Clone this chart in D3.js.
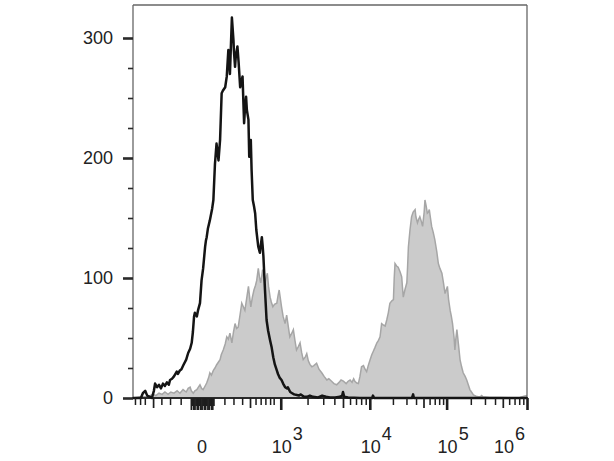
<!DOCTYPE html>
<html>
<head>
<meta charset="utf-8">
<script src="https://cdn.jsdelivr.net/npm/d3@7"></script>
<style>
  html, body { margin: 0; padding: 0; background: #fff; }
  svg { display: block; }
  text { font-family: "Liberation Sans", Arial, Helvetica, sans-serif; }
</style>
</head>
<body>
<svg id="chart" width="614" height="461"></svg>
<script>
// ---------- data (x in display channels 0..1000, y in event counts) ----------
const blackHist = [[0,0],[20,0],[25,4],[31,6],[36,2],[43,1],[48,0],[53,6],[56,12],[61,9],[66,11],[71,8],[76,12],[81,10],[86,13],[91,11],[94,15],[99,16],[104,18],[111,22],[114,20],[119,23],[123,24],[128,27.5],[135,32],[140,37.5],[145,41],[149,46],[152,55],[155,68],[157,71],[162,68],[165,73],[170,79],[174,98],[178,108],[183,126],[185,131],[187,134],[190,141],[195,148],[201,158],[204,165],[208,195],[212,212],[217,198],[221,215],[225,254],[228,256],[234,259],[238,268],[242,290],[244,280],[246,270],[251,317],[255,298],[256,290],[259,276],[261,285],[265,293],[268,280],[272,259],[274,262],[278,268],[282,229],[284,240],[287,251],[289,240],[293,232],[295,201],[299,215],[301,190],[304,165],[307,160],[310,154],[313,140],[318,126],[322,121],[327,134],[329,127],[331,118],[335,90],[339,65],[343,56],[348,48],[352,42],[356,34],[360,28],[365,23],[368,20],[372,17],[377,15],[381,12],[386,9],[391,8],[393,9],[399,5],[404,4],[409,3],[416,2.5],[421,2],[426,3],[434,1],[441,1],[449,2],[457,1],[470,0.5],[480,2],[490,1],[500,0.5],[513,0.5],[525,1],[531,2],[533,5],[536,1],[546,0.5],[576,0],[607,0],[609,2],[612,0],[678,0],[708,0],[711,3],[713,0],[805,0],[931,0],[1000,0]];

const grayHist = [[0,0],[18,1],[33,1],[43,2],[51,3],[58,2],[66,4],[74,3],[81,5],[89,3],[96,5],[104,4],[112,6],[119,4],[127,7],[135,5],[140,8],[145,9],[148,6],[153,4],[157,6],[162,7],[166,9],[170,11],[174,8],[178,7],[183,10],[187,12.5],[192,17],[195,21],[199,19],[204,23],[208,25],[212,27.5],[217,30],[221,32],[224,36],[229,40],[234,45],[238,51],[242,49],[246,54],[251,46],[255,55],[259,62],[263,58],[267,59],[272,70],[276,79],[280,76],[284,73],[289,84],[293,93],[296,84],[299,76],[303,84],[307,90],[311,94],[314,98],[318,108],[321,101],[324,96],[327,102],[329,107],[332,100],[335,96],[338,100],[341,104],[344,93],[348,84],[351,80],[355,76],[359,78],[365,79],[368,85],[371,90],[374,83],[377,76],[381,68],[386,62],[390,69],[394,60],[398,51],[403,54],[407,57],[411,48],[415,40],[420,43],[424,46],[428,38],[432,32],[437,34],[441,37],[445,31],[449,28],[454,26],[459,27],[466,29],[472,24],[479,21],[485,18],[492,15],[497,16],[504,14],[510,12],[517,11],[523,13],[528,15],[534,14],[541,12],[546,14],[551,15],[556,13],[560,16],[563,14],[568,12.5],[572,12],[576,18],[580,26],[585,27],[589,24],[593,22],[597,27],[602,32],[606,36],[610,39],[614,42],[619,46],[623,48],[627,51],[631,62],[635,61],[640,60],[644,65],[648,71],[652,79],[657,81],[661,82],[663,100],[665,112],[669,110],[673,109],[678,105],[682,101],[684,92],[686,84],[690,90],[695,96],[697,110],[699,126],[703,140],[707,151],[711,155],[716,157],[718,151],[722,146],[725,149],[728,151],[732,147],[735,143],[739,155],[741,165],[744,160],[747,154],[750,155],[752,157],[755,150],[758,143],[762,138],[766,132],[771,122],[775,112],[779,108],[784,104],[788,96],[792,87],[795,90],[798,93],[801,82],[805,73],[808,68],[811,62],[815,50],[817,40],[819,48],[822,57],[826,45],[830,32],[834,26],[838,21],[843,18],[847,15],[851,11],[855,7],[859,5],[864,2.5],[871,1.5],[876,1],[881,1],[885,2],[888,1],[906,0.5],[931,0.5],[957,0.3],[982,0.5],[992,1.5],[1000,2]];

// axis ticks / labels
const yMajorTicks = [0, 100, 200, 300];
const yMinorTicks = [25, 50, 75, 125, 150, 175, 225, 250, 275];
const xMajorCh   = [175, 375, 601, 796, 1000];
const xMajorBase = ["0", "10", "10", "10", "10"];
const xMajorExp  = ["", "3", "4", "5", "6"];
const xNegMinorCh = [5, 18, 30, 72, 94, 121];
const xNegMidCh   = [51];
const xZeroCluster = [147, 150, 153, 156, 159, 162, 165, 168, 171, 174, 177, 180, 183, 186, 189, 192, 195, 198, 201, 204];
const xLowMinorCh = [232, 255, 277, 311, 324, 336, 348, 357];
const xLowMidCh   = [297];
const decadeCh = [375, 601, 796, 1000]; // 10^3 .. 10^6

// ---------- scales ----------
const svg = d3.select("#chart");
const X0 = 133, X1 = 527, Y0 = 398, Y1 = 5;
const x = d3.scaleLinear().domain([0, 1000]).range([X0, X1]);
const y = d3.scaleLinear().domain([0, 327.5]).range([Y0, Y1]);

svg.append("rect").attr("width", 614).attr("height", 461).attr("fill", "#fff");

// ---------- gray filled histogram ----------
svg.append("path")
  .datum(grayHist)
  .attr("fill", "#cbcbcb")
  .attr("stroke", "none")
  .attr("d", d3.area().x(d => x(d[0])).y0(y(0)).y1(d => y(d[1])));
svg.append("path")
  .datum(grayHist)
  .attr("fill", "none")
  .attr("stroke", "#a6a6a6")
  .attr("stroke-width", 1.5)
  .attr("d", d3.line().x(d => x(d[0])).y(d => y(d[1])));

// ---------- frame ----------
const frame = svg.append("g").attr("fill", "none").attr("stroke", "#666").attr("stroke-width", 1.3);
frame.append("line").attr("x1", X0).attr("x2", X1).attr("y1", Y1).attr("y2", Y1);
frame.append("line").attr("x1", X1).attr("x2", X1).attr("y1", Y1).attr("y2", Y0);
frame.append("line").attr("x1", X0).attr("x2", X0).attr("y1", Y1).attr("y2", Y0);
svg.append("line").attr("x1", X0 - 1).attr("x2", X1 + 1).attr("y1", Y0).attr("y2", Y0)
  .attr("stroke", "#2a2a2a").attr("stroke-width", 2.2);

// ---------- black open histogram ----------
svg.append("path")
  .datum(blackHist)
  .attr("fill", "none")
  .attr("stroke", "#141414")
  .attr("stroke-width", 2.5)
  .attr("stroke-linejoin", "round")
  .attr("d", d3.line().x(d => x(d[0])).y(d => y(d[1])));

// ---------- y axis ----------
const yMajAxis = svg.append("g").attr("transform", `translate(${X0},0)`)
  .call(d3.axisLeft(y).tickValues(yMajorTicks).tickSize(10).tickPadding(10).tickFormat(d3.format("d")));
yMajAxis.select(".domain").remove();
yMajAxis.selectAll(".tick line").attr("stroke", "#2a2a2a").attr("stroke-width", 2.6);
yMajAxis.selectAll(".tick text").attr("font-size", 18).attr("fill", "#222")
  .attr("font-family", "'Liberation Sans', Arial, sans-serif");

const yMinAxis = svg.append("g").attr("transform", `translate(${X0},0)`)
  .call(d3.axisLeft(y).tickValues(yMinorTicks).tickSize(5).tickFormat(""));
yMinAxis.select(".domain").remove();
yMinAxis.selectAll(".tick line").attr("stroke", "#2a2a2a").attr("stroke-width", 1.6);

// ---------- x axis ticks ----------
function xTicks(values, size, width) {
  const g = svg.append("g").attr("transform", `translate(0,${Y0})`)
    .call(d3.axisBottom(x).tickValues(values).tickSize(size).tickFormat(""));
  g.select(".domain").remove();
  g.selectAll(".tick line").attr("stroke", "#1e1e1e").attr("stroke-width", width);
  return g;
}
const logMinor = [], logMid = [];
for (let i = 0; i < decadeCh.length - 1; i++) {
  const lo = decadeCh[i], hi = decadeCh[i + 1];
  for (let k = 2; k <= 9; k++) {
    const c = lo + (hi - lo) * Math.log10(k);
    (k === 5 ? logMid : logMinor).push(c);
  }
}
xTicks(xNegMinorCh.concat(xLowMinorCh, logMinor), 7, 1.5);
xTicks(xNegMidCh.concat(xLowMidCh, logMid), 10, 1.7);
xTicks(xZeroCluster.filter((d, i) => i % 3 !== 1), 12, 1.8);
xTicks(xZeroCluster.filter((d, i) => i % 3 === 1), 8, 1.8);
xTicks(xMajorCh.slice(1), 12, 2.6);

// ---------- x labels ----------
const lab = svg.append("g").attr("font-size", 18).attr("fill", "#222");
xMajorCh.forEach((c, i) => {
  const t = lab.append("text").attr("y", 453);
  if (i === 0) {
    t.attr("x", x(c)).attr("text-anchor", "middle").text(xMajorBase[i]);
    return;
  }
  if (i === xMajorCh.length - 1) {
    t.attr("x", x(c) - 2).attr("text-anchor", "end");
  } else {
    t.attr("x", x(c) - 9).attr("text-anchor", "start");
  }
  t.append("tspan").text(xMajorBase[i]);
  t.append("tspan").attr("dx", 1).attr("dy", -13.5).text(xMajorExp[i]);
});
</script>
</body>
</html>
